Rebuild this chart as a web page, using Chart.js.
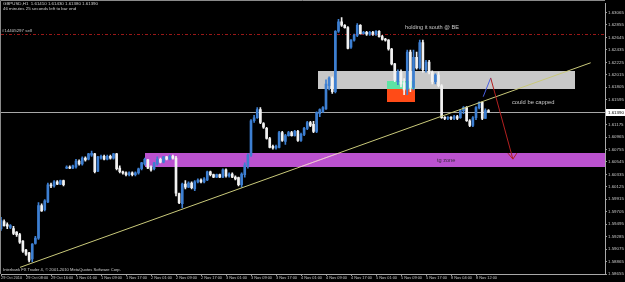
<!DOCTYPE html>
<html>
<head>
<meta charset="utf-8">
<title>GBPUSD H1</title>
<script src="https://cdn.jsdelivr.net/npm/chart.js@4.4.0/dist/chart.umd.min.js"></script>
<style>
    html, body { margin: 0; padding: 0; background: #000; }
    canvas { display: block; }
</style>
</head>
<body>
<canvas id="mtChart" width="625" height="282"></canvas>
<script>
// GBPUSD H1 candles, 29 Oct - 8 Nov 2010
const opens = [
    1.5942, 1.5954, 1.5949, 1.5944, 1.5942, 1.5936, 1.5932, 1.5921, 1.5906, 1.5901,
    1.5891, 1.5917, 1.5926, 1.5981, 1.5974, 1.5987, 1.6016, 1.6014, 1.6021, 1.6017,
    1.6023, 1.6044, 1.6046, 1.6044, 1.6046, 1.6056, 1.6051, 1.6061, 1.6059, 1.6066,
    1.6068, 1.6039, 1.6061, 1.6064, 1.6059, 1.6064, 1.6061, 1.6068, 1.6044, 1.6038,
    1.6036, 1.6033, 1.6036, 1.6033, 1.6036, 1.6043, 1.6051, 1.6058, 1.6046, 1.6043,
    1.6051, 1.6059, 1.6054, 1.6063, 1.6059, 1.6064, 1.6061, 1.6001, 1.5984, 1.6017,
    1.6012, 1.6019, 1.6009, 1.6021, 1.6024, 1.6021, 1.6024, 1.6038, 1.6033, 1.6029,
    1.6033, 1.6029, 1.6041, 1.6031, 1.6034, 1.6029, 1.6028, 1.6016, 1.6033, 1.6048,
    1.6066, 1.6124, 1.6129, 1.6143, 1.6119, 1.6111, 1.6094, 1.6081, 1.6078, 1.6079,
    1.6104, 1.6089, 1.6099, 1.6104, 1.6099, 1.6106, 1.6091, 1.6101, 1.6111, 1.6121,
    1.6118, 1.6106, 1.6136, 1.6139, 1.6144, 1.6183, 1.6196, 1.6173, 1.6275, 1.6291,
    1.6285, 1.6281, 1.6248, 1.6260, 1.6268, 1.6285, 1.6271, 1.6273, 1.6270, 1.6273,
    1.6270, 1.6275, 1.6266, 1.6261, 1.6260, 1.6245, 1.6220, 1.6190, 1.6206, 1.6188,
    1.6176, 1.6240, 1.6180, 1.6231, 1.6213, 1.6256, 1.6210, 1.6223, 1.6206, 1.6190,
    1.6201, 1.6183, 1.6129, 1.6128, 1.6129, 1.6128, 1.6131, 1.6129, 1.6141, 1.6146,
    1.6124, 1.6116, 1.6129, 1.6146, 1.6155, 1.6128, 1.6141
];
const highs = [
    1.5961, 1.5957, 1.5952, 1.5949, 1.5946, 1.5937, 1.5934, 1.5922, 1.5907, 1.5902,
    1.5917, 1.5929, 1.5986, 1.5984, 1.5991, 1.6019, 1.6019, 1.6023, 1.6023, 1.6024,
    1.6024, 1.6048, 1.6048, 1.6049, 1.6059, 1.6058, 1.6063, 1.6063, 1.6069, 1.6073,
    1.6069, 1.6064, 1.6066, 1.6066, 1.6066, 1.6066, 1.6069, 1.6069, 1.6048, 1.6039,
    1.6038, 1.6038, 1.6038, 1.6038, 1.6044, 1.6054, 1.6061, 1.6059, 1.6048, 1.6054,
    1.6063, 1.6061, 1.6064, 1.6064, 1.6066, 1.6066, 1.6064, 1.6002, 1.6019, 1.6023,
    1.6021, 1.6021, 1.6023, 1.6026, 1.6026, 1.6028, 1.6039, 1.6039, 1.6034, 1.6034,
    1.6034, 1.6043, 1.6043, 1.6036, 1.6036, 1.6031, 1.6029, 1.6036, 1.6053, 1.6068,
    1.6126, 1.6133, 1.6146, 1.6146, 1.6121, 1.6113, 1.6096, 1.6083, 1.6083, 1.6106,
    1.6106, 1.6101, 1.6106, 1.6106, 1.6108, 1.6108, 1.6103, 1.6113, 1.6123, 1.6123,
    1.6123, 1.6139, 1.6144, 1.6148, 1.6193, 1.6198, 1.6198, 1.6276, 1.6295, 1.6298,
    1.6286, 1.6283, 1.6261, 1.6270, 1.6288, 1.6286, 1.6275, 1.6275, 1.6275, 1.6275,
    1.6276, 1.6276, 1.6268, 1.6263, 1.6261, 1.6246, 1.6221, 1.6210, 1.6210, 1.6195,
    1.6243, 1.6243, 1.6243, 1.6240, 1.6260, 1.6260, 1.6226, 1.6226, 1.6208, 1.6203,
    1.6206, 1.6185, 1.6131, 1.6131, 1.6131, 1.6133, 1.6133, 1.6143, 1.6148, 1.6148,
    1.6126, 1.6131, 1.6148, 1.6156, 1.6156, 1.6144, 1.6143
];
const lows = [
    1.5939, 1.5946, 1.5942, 1.5942, 1.5932, 1.5929, 1.5917, 1.5902, 1.5897, 1.5886,
    1.5886, 1.5916, 1.5924, 1.5971, 1.5972, 1.5986, 1.6011, 1.6012, 1.6016, 1.6016,
    1.6014, 1.6043, 1.6043, 1.6043, 1.6044, 1.6049, 1.6049, 1.6056, 1.6058, 1.6064,
    1.6036, 1.6038, 1.6059, 1.6058, 1.6058, 1.6059, 1.6059, 1.6041, 1.6036, 1.6034,
    1.6031, 1.6031, 1.6031, 1.6031, 1.6034, 1.6041, 1.6049, 1.6043, 1.6039, 1.6041,
    1.6049, 1.6053, 1.6053, 1.6058, 1.6058, 1.6059, 1.5997, 1.5984, 1.5977, 1.6009,
    1.6011, 1.6009, 1.6006, 1.6019, 1.6019, 1.6019, 1.6023, 1.6031, 1.6028, 1.6028,
    1.6028, 1.6028, 1.6029, 1.6029, 1.6028, 1.6024, 1.6014, 1.6012, 1.6029, 1.6044,
    1.6064, 1.6121, 1.6128, 1.6119, 1.6111, 1.6093, 1.6078, 1.6076, 1.6076, 1.6078,
    1.6089, 1.6084, 1.6098, 1.6098, 1.6098, 1.6089, 1.6089, 1.6099, 1.6109, 1.6114,
    1.6104, 1.6104, 1.6131, 1.6138, 1.6143, 1.6176, 1.6170, 1.6171, 1.6273, 1.6283,
    1.6280, 1.6245, 1.6246, 1.6258, 1.6266, 1.6270, 1.6270, 1.6268, 1.6268, 1.6268,
    1.6268, 1.6265, 1.6260, 1.6258, 1.6243, 1.6218, 1.6190, 1.6185, 1.6181, 1.6168,
    1.6168, 1.6173, 1.6176, 1.6211, 1.6211, 1.6206, 1.6206, 1.6203, 1.6186, 1.6186,
    1.6181, 1.6128, 1.6126, 1.6126, 1.6126, 1.6126, 1.6126, 1.6128, 1.6136, 1.6123,
    1.6114, 1.6114, 1.6126, 1.6144, 1.6126, 1.6128, 1.6138
];
const closes = [
    1.5956, 1.5947, 1.5946, 1.5947, 1.5934, 1.5932, 1.5919, 1.5904, 1.5899, 1.5889,
    1.5916, 1.5926, 1.5981, 1.5972, 1.5989, 1.6016, 1.6014, 1.6021, 1.6017, 1.6023,
    1.6016, 1.6046, 1.6044, 1.6048, 1.6056, 1.6051, 1.6061, 1.6058, 1.6068, 1.6069,
    1.6038, 1.6063, 1.6064, 1.6059, 1.6064, 1.6061, 1.6068, 1.6043, 1.6038, 1.6036,
    1.6033, 1.6036, 1.6033, 1.6036, 1.6043, 1.6053, 1.6059, 1.6044, 1.6041, 1.6053,
    1.6059, 1.6054, 1.6063, 1.6059, 1.6064, 1.6061, 1.6002, 1.5986, 1.6017, 1.6012,
    1.6019, 1.6011, 1.6021, 1.6024, 1.6021, 1.6026, 1.6038, 1.6033, 1.6029, 1.6033,
    1.6029, 1.6041, 1.6031, 1.6034, 1.6029, 1.6026, 1.6016, 1.6034, 1.6049, 1.6066,
    1.6124, 1.6129, 1.6143, 1.6121, 1.6113, 1.6094, 1.6079, 1.6078, 1.6081, 1.6104,
    1.6091, 1.6099, 1.6104, 1.6099, 1.6106, 1.6091, 1.6101, 1.6111, 1.6121, 1.6116,
    1.6106, 1.6138, 1.6143, 1.6146, 1.6186, 1.6196, 1.6173, 1.6275, 1.6291, 1.6285,
    1.6281, 1.6246, 1.6260, 1.6268, 1.6285, 1.6271, 1.6273, 1.6270, 1.6273, 1.6270,
    1.6275, 1.6266, 1.6261, 1.6260, 1.6245, 1.6220, 1.6193, 1.6206, 1.6186, 1.6176,
    1.6240, 1.6180, 1.6231, 1.6213, 1.6256, 1.6210, 1.6223, 1.6206, 1.6190, 1.6201,
    1.6183, 1.6129, 1.6128, 1.6129, 1.6128, 1.6131, 1.6128, 1.6141, 1.6146, 1.6124,
    1.6116, 1.6129, 1.6146, 1.6155, 1.6128, 1.6141, 1.6139
];

// time axis: one label every 8 bars
const timeLabels = [
    '29 Oct 2010', '29 Oct 08:00', '29 Oct 16:00', '1 Nov 01:00', '1 Nov 09:00',
    '1 Nov 17:00', '2 Nov 01:00', '2 Nov 09:00', '2 Nov 17:00', '3 Nov 01:00',
    '3 Nov 09:00', '3 Nov 17:00', '4 Nov 01:00', '4 Nov 09:00', '4 Nov 17:00',
    '5 Nov 01:00', '5 Nov 09:00', '5 Nov 17:00', '8 Nov 04:00', '8 Nov 12:00'
];
const timeTickStep = 8;

const priceTicks = [
    1.63065, 1.62855, 1.62645, 1.62435, 1.62225, 1.62015, 1.61805, 1.61595,
    1.61385, 1.61175, 1.60965, 1.60755, 1.60545, 1.60335, 1.60125, 1.59915,
    1.59705, 1.59495, 1.59285, 1.59075, 1.58865, 1.58655
];

// drawn objects: [fromBar, toBar, priceTop, priceBottom]
const resistBox = [101.4, 183.7, 1.62079, 1.61779];
const entryBox = [123.5, 132.5, 1.61912, 1.61779];
const stopBox = [123.5, 132.5, 1.61779, 1.61550];
const targetZone = [46.1, 200, 1.60693, 1.60459];
const trendLine = [[6.08, 1.58767], [188.7, 1.62218]];
const upLeg = [[154.3, 1.61645], [156.7, 1.61962]];
const downLeg = [[156.7, 1.61962], [163.8, 1.60593]];
const sellPrice = 1.62697;

const UP = '#3d7fd2';
const DOWN = '#f2f2f2';
const FONT = 'Liberation Sans, Arial, sans-serif';

const bars = opens.map((o, i) => i);
const candleColors = bars.map(i => closes[i] > opens[i] ? UP : DOWN);

const mtObjects = {
    id: 'mtObjects',
    beforeDraw(chart) {
        const ctx = chart.ctx;
        ctx.save();
        ctx.fillStyle = '#000';
        ctx.fillRect(0, 0, chart.width, chart.height);
        ctx.restore();
    },
    beforeDatasetsDraw(chart) {
        const {ctx, chartArea: a, scales: {x, y}} = chart;
        ctx.save();
        ctx.beginPath();
        ctx.rect(a.left, a.top, a.right - a.left, a.bottom - a.top);
        ctx.clip();

        function box(b, color) {
            const x0 = Math.round(x.getPixelForValue(b[0]));
            const x1 = Math.round(x.getPixelForValue(b[1]));
            const y0 = Math.round(y.getPixelForValue(b[2]));
            const y1 = Math.round(y.getPixelForValue(b[3]));
            ctx.fillStyle = color;
            ctx.fillRect(x0, y0, x1 - x0, y1 - y0);
        }
        box(targetZone, '#bb52cf');
        box(resistBox, '#c8c8c8');
        box(entryBox, '#5ee3a4');
        box(stopBox, '#ff4b17');

        // bid line
        const by = Math.round(y.getPixelForValue(closes[closes.length - 1])) + 0.5;
        ctx.strokeStyle = '#a8a8a8';
        ctx.lineWidth = 1;
        ctx.beginPath();
        ctx.moveTo(a.left, by);
        ctx.lineTo(a.right, by);
        ctx.stroke();

        // order line
        const sy = Math.round(y.getPixelForValue(sellPrice)) + 0.5;
        ctx.strokeStyle = '#9a1818';
        ctx.setLineDash([3, 2, 1, 2]);
        ctx.beginPath();
        ctx.moveTo(a.left, sy);
        ctx.lineTo(a.right, sy);
        ctx.stroke();
        ctx.restore();
    },
    afterDatasetsDraw(chart) {
        const {ctx, chartArea: a, scales: {x, y}} = chart;
        const px = p => [x.getPixelForValue(p[0]), y.getPixelForValue(p[1])];
        ctx.save();
        ctx.beginPath();
        ctx.rect(a.left, a.top, a.right - a.left, a.bottom - a.top);
        ctx.clip();

        function seg(pts, color) {
            const p0 = px(pts[0]), p1 = px(pts[1]);
            ctx.strokeStyle = color;
            ctx.lineWidth = 1;
            ctx.beginPath();
            ctx.moveTo(p0[0], p0[1]);
            ctx.lineTo(p1[0], p1[1]);
            ctx.stroke();
        }
        seg(trendLine, '#c9c97a');
        // trend line shows pinkish inside the target zone
        ctx.save();
        const zx0 = x.getPixelForValue(targetZone[0]);
        const zy0 = y.getPixelForValue(targetZone[2]);
        const zy1 = y.getPixelForValue(targetZone[3]);
        ctx.beginPath();
        ctx.rect(zx0, zy0, a.right - zx0, zy1 - zy0);
        ctx.clip();
        seg(trendLine, '#f2b4ea');
        ctx.restore();

        seg(upLeg, '#4a5ee0');
        seg(downLeg, '#b32020');
        // arrow head
        const tip = px(downLeg[1]);
        ctx.strokeStyle = '#b32020';
        ctx.beginPath();
        ctx.moveTo(tip[0] - 5, tip[1] - 6);
        ctx.lineTo(tip[0], tip[1]);
        ctx.lineTo(tip[0] + 4, tip[1] - 6);
        ctx.stroke();

        // texts
        ctx.textBaseline = 'middle';
        ctx.textAlign = 'left';
        ctx.fillStyle = '#c8c8c8';
        ctx.font = '5.6px ' + FONT;
        ctx.fillText('holding it south @ BE', x.getPixelForValue(129.3), y.getPixelForValue(1.62806));
        ctx.font = '5.8px ' + FONT;
        ctx.fillText('could be capped', x.getPixelForValue(163.5), y.getPixelForValue(1.61553));
        ctx.fillStyle = '#3a2a3e';
        ctx.font = '5.6px ' + FONT;
        ctx.fillText('tg zone', x.getPixelForValue(139.5), y.getPixelForValue(1.60568));
        ctx.fillStyle = '#c8c8c8';
        ctx.font = '4.4px ' + FONT;
        ctx.fillText('#14405297 sell', a.left + 1, y.getPixelForValue(sellPrice) - 3.5);
        ctx.restore();
    },
    afterDraw(chart) {
        const {ctx, chartArea: a, scales: {y}} = chart;
        ctx.save();
        // window frame
        ctx.strokeStyle = '#8a8a8a';
        ctx.lineWidth = 1;
        ctx.beginPath();
        ctx.moveTo(0.5, a.bottom);
        ctx.lineTo(0.5, 0.5);
        ctx.lineTo(a.right, 0.5);
        ctx.stroke();

        ctx.fillStyle = '#d0d0d0';
        ctx.font = '4.4px ' + FONT;
        ctx.textBaseline = 'middle';
        ctx.textAlign = 'left';
        ctx.fillText('GBPUSD,H1  1.61410 1.61430 1.61380 1.61390', 3, 4);
        ctx.fillText('46 minutes 25 seconds left to bar end', 3, 9);
        ctx.font = '4.1px ' + FONT;
        ctx.fillText('Interbank FX Trader 4, \u00a9 2001-2010 MetaQuotes Software Corp.', 3, 269.5);

        // bid price tag
        const bid = closes[closes.length - 1];
        const by = Math.round(y.getPixelForValue(bid));
        ctx.fillStyle = '#ffffff';
        ctx.fillRect(a.right + 1, by - 3, 19, 7);
        ctx.fillStyle = '#000';
        ctx.font = '4.4px ' + FONT;
        ctx.fillText(bid.toFixed(5), a.right + 3, by + 0.5);
        ctx.restore();
    }
};

new Chart(document.getElementById('mtChart'), {
    type: 'bar',
    data: {
        datasets: [{
            // bodies
            data: bars.map(i => ({x: i, y: [opens[i], closes[i]]})),
            backgroundColor: candleColors,
            barThickness: 2,
            minBarLength: 1,
            grouped: false,
            borderWidth: 0
        }, {
            // wicks
            data: bars.map(i => ({x: i, y: [lows[i], highs[i]]})),
            backgroundColor: candleColors,
            barThickness: 1,
            grouped: false,
            borderWidth: 0
        }]
    },
    options: {
        responsive: false,
        animation: false,
        events: [],
        layout: {
            autoPadding: false,
            padding: {top: 1, left: 1, right: 0, bottom: 0}
        },
        plugins: {
            legend: {display: false},
            tooltip: {enabled: false}
        },
        scales: {
            x: {
                type: 'linear',
                position: 'bottom',
                min: 0,
                max: 193.28,
                offset: false,
                afterBuildTicks: function(scale) {
                    scale.ticks = timeLabels.map((t, k) => ({value: k * timeTickStep}));
                },
                afterFit: function(scale) {
                    scale.height = 8;
                },
                ticks: {
                    autoSkip: false,
                    maxRotation: 0,
                    minRotation: 0,
                    align: 'start',
                    padding: 0,
                    color: '#c8c8c8',
                    font: {family: FONT, size: 3.9},
                    callback: function(value) {
                        return timeLabels[value / timeTickStep] || '';
                    }
                },
                grid: {
                    display: true,
                    offset: false,
                    drawOnChartArea: false,
                    drawTicks: true,
                    tickLength: 2,
                    color: '#9a9a9a'
                },
                border: {display: true, color: '#a8a8a8'}
            },
            y: {
                type: 'linear',
                position: 'right',
                min: 1.58655,
                max: 1.63215,
                afterBuildTicks: function(scale) {
                    scale.ticks = priceTicks.map(v => ({value: v}));
                },
                afterFit: function(scale) {
                    scale.width = 20;
                },
                ticks: {
                    padding: 1,
                    color: '#c8c8c8',
                    font: {family: FONT, size: 4.4},
                    callback: function(value) {
                        return value.toFixed(5);
                    }
                },
                grid: {
                    display: true,
                    drawOnChartArea: false,
                    drawTicks: true,
                    tickLength: 2,
                    color: '#9a9a9a'
                },
                border: {display: true, color: '#a8a8a8'}
            }
        }
    },
    plugins: [mtObjects]
});
</script>
</body>
</html>
